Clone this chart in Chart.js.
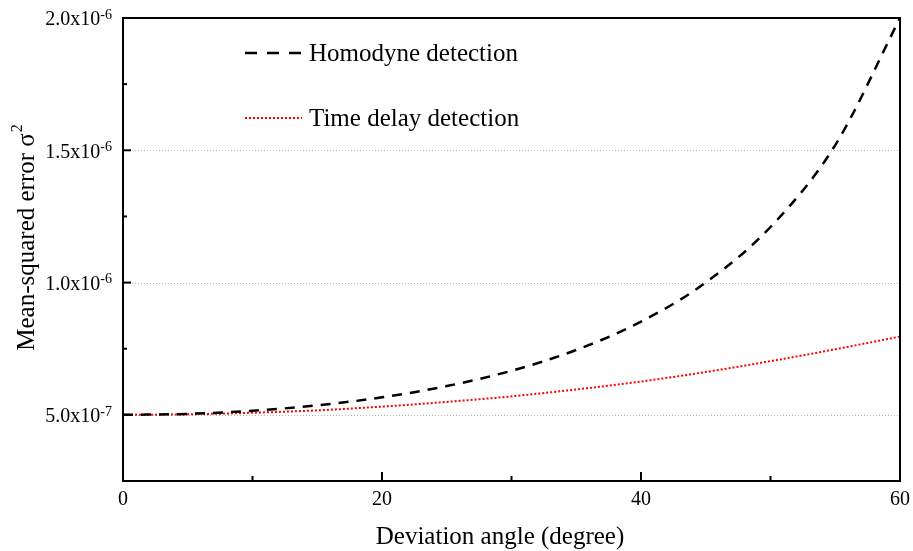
<!DOCTYPE html>
<html><head><meta charset="utf-8">
<script src="https://cdn.jsdelivr.net/npm/chart.js@4"></script>
<style>html,body{margin:0;padding:0;background:#fff}#wrap{width:913px;height:551px;position:relative}</style>
</head><body><div id="wrap"><canvas id="c"></canvas></div>
<script>
const angles = [0, 5, 10, 15, 20, 25, 30, 35, 40, 45, 50, 55, 60];
const homodyne = [5.000e-7, 5.038e-7, 5.155e-7, 5.359e-7, 5.662e-7, 6.087e-7, 6.667e-7, 7.452e-7, 8.521e-7, 10.000e-7, 12.101e-7, 15.198e-7, 20.000e-7];
const timeDelay = [5.00e-7, 5.02e-7, 5.08e-7, 5.17e-7, 5.31e-7, 5.49e-7, 5.70e-7, 5.96e-7, 6.26e-7, 6.62e-7, 7.03e-7, 7.48e-7, 7.96e-7];
const seriesNames = ["Homodyne detection", "Time delay detection"];
const xMajorTicks = [0, 20, 40, 60];
const xMinorTicks = [10, 30, 50];
const yMajorTicks = [5e-7, 1e-6, 1.5e-6, 2e-6];
const yTickMantissa = ["5.0x10", "1.0x10", "1.5x10", "2.0x10"];
const yTickExponent = ["-7", "-6", "-6", "-6"];
const yMinorTicks = [7.5e-7, 1.25e-6, 1.75e-6];
const yGridValues = [5e-7, 1e-6, 1.5e-6];
const xTitle = "Deviation angle (degree)";
const yTitle = "Mean-squared error \u03c3";
const yTitleSup = "2";

const SERIF = "'Liberation Serif','Times New Roman',serif";

const gridPlugin = {
  id: 'gridPlugin',
  beforeDatasetsDraw(chart) {
    const {ctx, chartArea: a, scales: {x, y}} = chart;
    ctx.save();
    ctx.strokeStyle = '#b4b4b4';
    ctx.lineWidth = 1;
    ctx.setLineDash([1, 2]);
    yGridValues.forEach(v => {
      const py = Math.round(y.getPixelForValue(v)) + 0.5;
      ctx.beginPath(); ctx.moveTo(a.left, py); ctx.lineTo(a.right, py); ctx.stroke();
    });
    ctx.restore();
  },
  afterDraw(chart) {
    const {ctx, chartArea: a, scales: {x, y}} = chart;
    ctx.save();
    ctx.strokeStyle = '#000';
    ctx.lineWidth = 2;
    ctx.setLineDash([]);
    ctx.strokeRect(a.left, a.top, a.right - a.left, a.bottom - a.top);
    xMajorTicks.forEach(v => {
      const px = x.getPixelForValue(v);
      ctx.beginPath(); ctx.moveTo(px, a.bottom); ctx.lineTo(px, a.bottom - 9); ctx.stroke();
    });
    xMinorTicks.forEach(v => {
      const px = x.getPixelForValue(v);
      ctx.beginPath(); ctx.moveTo(px, a.bottom); ctx.lineTo(px, a.bottom - 5); ctx.stroke();
    });
    yMajorTicks.forEach(v => {
      const py = y.getPixelForValue(v);
      ctx.beginPath(); ctx.moveTo(a.left, py); ctx.lineTo(a.left + 8, py); ctx.stroke();
    });
    yMinorTicks.forEach(v => {
      const py = y.getPixelForValue(v);
      ctx.beginPath(); ctx.moveTo(a.left, py); ctx.lineTo(a.left + 4, py); ctx.stroke();
    });
    ctx.fillStyle = '#000';
    ctx.font = '20px ' + SERIF;
    ctx.textAlign = 'center';
    ctx.textBaseline = 'middle';
    xMajorTicks.forEach(v => {
      ctx.fillText(String(v), x.getPixelForValue(v), a.bottom + 19);
    });
    const rightEdge = a.left - 11;
    yMajorTicks.forEach((v, i) => {
      const py = y.getPixelForValue(v);
      ctx.font = '14px ' + SERIF;
      const we = ctx.measureText(yTickExponent[i]).width;
      ctx.font = '20px ' + SERIF;
      const wm = ctx.measureText(yTickMantissa[i]).width;
      const x0 = rightEdge - we - wm;
      ctx.textAlign = 'left';
      ctx.textBaseline = 'middle';
      ctx.fillText(yTickMantissa[i], x0, py + 2);
      ctx.font = '14px ' + SERIF;
      ctx.fillText(yTickExponent[i], x0 + wm, py - 3);
    });
    ctx.font = '25px ' + SERIF;
    ctx.textAlign = 'center';
    ctx.textBaseline = 'middle';
    ctx.fillText(xTitle, 500, 537);
    ctx.save();
    ctx.translate(25, 238);
    ctx.rotate(-Math.PI / 2);
    ctx.font = '25px ' + SERIF;
    const wt = ctx.measureText(yTitle).width;
    ctx.font = '16px ' + SERIF;
    const ws = ctx.measureText(yTitleSup).width;
    const sx = -(wt + ws) / 2;
    ctx.textAlign = 'left';
    ctx.font = '25px ' + SERIF;
    ctx.fillText(yTitle, sx, 2);
    ctx.font = '16px ' + SERIF;
    ctx.fillText(yTitleSup, sx + wt + 1, -7);
    ctx.restore();
    const ds = chart.data.datasets;
    const legendRows = [53, 118];
    const legendDash = [[12, 10], [2, 2]];
    ds.forEach((d, i) => {
      const ly = legendRows[i];
      ctx.strokeStyle = d.borderColor;
      ctx.lineWidth = d.borderWidth;
      ctx.setLineDash(legendDash[i]);
      ctx.beginPath(); ctx.moveTo(245, ly); ctx.lineTo(302, ly); ctx.stroke();
      ctx.setLineDash([]);
      ctx.fillStyle = '#000';
      ctx.font = '25px ' + SERIF;
      ctx.textAlign = 'left';
      ctx.textBaseline = 'middle';
      ctx.fillText(d.label, 309, ly + 1);
    });
    ctx.restore();
  }
};

new Chart(document.getElementById('c'), {
  type: 'line',
  data: {
    datasets: [
      {
        label: seriesNames[0],
        data: angles.map((a, i) => ({x: a, y: homodyne[i]})),
        borderColor: '#000000',
        borderWidth: 2.5,
        borderDash: [10, 8],
        pointRadius: 0,
        cubicInterpolationMode: 'monotone',
        fill: false
      },
      {
        label: seriesNames[1],
        data: angles.map((a, i) => ({x: a, y: timeDelay[i]})),
        borderColor: '#ff0000',
        borderWidth: 2,
        borderDash: [2, 2],
        pointRadius: 0,
        cubicInterpolationMode: 'monotone',
        fill: false
      }
    ]
  },
  options: {
    responsive: true,
    maintainAspectRatio: false,
    animation: false,
    layout: {padding: {left: 123, top: 18, right: 13, bottom: 70}},
    plugins: {legend: {display: false}, tooltip: {enabled: false}},
    scales: {
      x: {type: 'linear', min: 0, max: 60, display: false},
      y: {type: 'linear', min: 2.5e-7, max: 2e-6, display: false}
    }
  },
  plugins: [gridPlugin]
});
</script>
</body></html>
